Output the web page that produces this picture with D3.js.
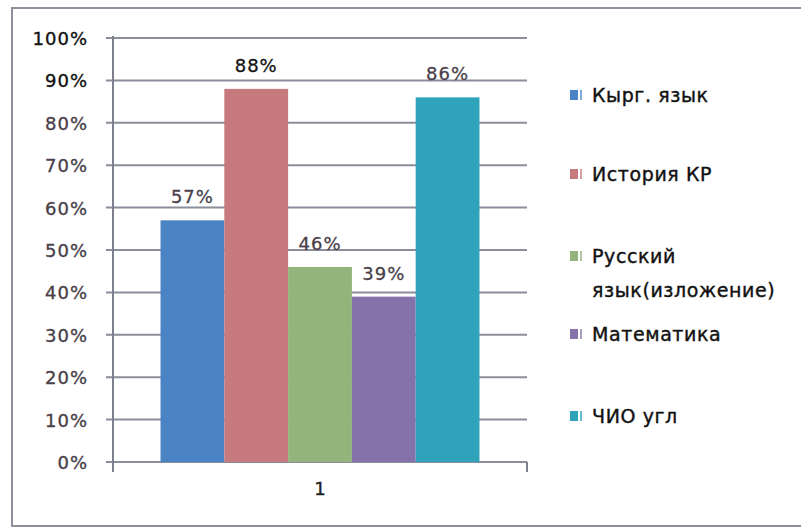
<!DOCTYPE html>
<html>
<head>
<meta charset="utf-8">
<script src="https://cdn.jsdelivr.net/npm/d3@7"></script>
<style>
	body { margin: 0; background: #fff; }
	text { font-family: "DejaVu Sans", sans-serif; }
</style>
</head>
<body>
<script>
var subjects = ['Кырг. язык', 'История КР', 'Русский язык(изложение)', 'Математика', 'ЧИО угл']
var legendLines = [['Кырг. язык'], ['История КР'], ['Русский', 'язык(изложение)'], ['Математика'], ['ЧИО угл']]
var values = [0.57, 0.88, 0.46, 0.39, 0.86]
var colors = ['#4a84c4', '#c67a7d', '#93b47a', '#8672ab', '#2ea3b9']
var yTicks = [0, 0.1, 0.2, 0.3, 0.4, 0.5, 0.6, 0.7, 0.8, 0.9, 1]
var groups = ['1']

var width = 801, height = 529

var svg = d3.select('body').append('svg')
	.attr('width', width)
	.attr('height', height)

// outer frame
svg.append('rect')
	.attr('x', 12).attr('y', 8)
	.attr('width', 800).attr('height', 518)
	.attr('fill', 'none')
	.attr('stroke', '#8d8f9c')
	.attr('stroke-width', 2)

var plot = {left: 113, right: 527, top: 38, bottom: 462}

var y = d3.scaleLinear()
	.domain([0, 1])
	.range([plot.bottom, plot.top])

var x0 = d3.scaleBand()
	.domain(groups)
	.range([plot.left, plot.right])
	.paddingInner(0)
	.paddingOuter(0.149)

var x1 = d3.scaleBand()
	.domain(subjects)
	.range([0, x0.bandwidth()])

// gridlines
svg.append('g')
	.selectAll('line')
	.data(yTicks)
	.enter()
	.append('line')
		.attr('x1', plot.left - 7)
		.attr('x2', plot.right)
		.attr('y1', d => y(d))
		.attr('y2', d => y(d))
		.attr('stroke', '#8a8d9a')
		.attr('stroke-width', 2)

// y tick labels
svg.append('g')
	.selectAll('text')
	.data(yTicks)
	.enter()
	.append('text')
		.attr('x', 88)
		.attr('y', d => y(d) + 7)
		.attr('text-anchor', 'end')
		.attr('font-size', 18)
		.attr('letter-spacing', 1)
		.attr('fill', d => d >= 0.9 ? '#111' : '#4a3f4a')
		.attr('stroke', d => d >= 0.9 ? '#111' : '#4a3f4a')
		.attr('stroke-width', 0.35)
		.text(d3.format('.0%'))

// bars
var g = svg.append('g').attr('transform', 'translate(' + x0('1') + ',0)')

g.selectAll('rect')
	.data(values)
	.enter()
	.append('rect')
		.attr('x', (d, i) => x1(subjects[i]))
		.attr('width', x1.bandwidth())
		.attr('y', d => y(d))
		.attr('height', d => y(0) - y(d))
		.attr('fill', (d, i) => colors[i])

g.selectAll('.lbl')
	.data(values)
	.enter()
	.append('text')
		.attr('class', 'lbl')
		.attr('x', (d, i) => x1(subjects[i]) + x1.bandwidth() / 2)
		.attr('y', d => y(d) - 17)
		.attr('text-anchor', 'middle')
		.attr('font-size', 18)
		.attr('letter-spacing', 1)
		.attr('fill', (d, i) => i == 1 ? '#111' : '#4a3f4a')
		.attr('stroke', (d, i) => i == 1 ? '#111' : '#4a3f4a')
		.attr('stroke-width', 0.3)
		.text(d3.format('.0%'))

// axes lines
svg.append('line')
	.attr('x1', plot.left).attr('x2', plot.left)
	.attr('y1', plot.top - 2).attr('y2', plot.bottom + 10)
	.attr('stroke', '#7c7f8e').attr('stroke-width', 2)

svg.append('line')
	.attr('x1', plot.right).attr('x2', plot.right)
	.attr('y1', plot.bottom).attr('y2', plot.bottom + 10)
	.attr('stroke', '#7c7f8e').attr('stroke-width', 2)

svg.append('text')
	.attr('x', x0('1') + x0.bandwidth() / 2)
	.attr('y', 495)
	.attr('text-anchor', 'middle')
	.attr('font-size', 18)
	.attr('fill', '#222')
	.attr('stroke', '#222')
	.attr('stroke-width', 0.4)
	.text(groups[0])

// legend
var legendY = [95, 174, 256, 334, 416]

var leg = svg.append('g')
	.selectAll('g')
	.data(legendLines)
	.enter()
	.append('g')
		.attr('transform', (d, i) => 'translate(570,' + legendY[i] + ')')

leg.append('rect')
	.attr('x', 0).attr('y', -5)
	.attr('width', 8).attr('height', 10)
	.attr('fill', (d, i) => colors[i])

leg.append('rect')
	.attr('x', 10).attr('y', -5)
	.attr('width', 2).attr('height', 10)
	.attr('fill', (d, i) => colors[i])
	.attr('opacity', 0.7)

leg.append('text')
	.attr('x', 22)
	.attr('y', 7)
	.attr('font-size', 19)
	.attr('letter-spacing', 0.6)
	.attr('fill', '#111')
	.attr('stroke', '#111')
	.attr('stroke-width', 0.4)
	.selectAll('tspan')
	.data(d => d)
	.enter()
	.append('tspan')
		.attr('x', 22)
		.attr('dy', (d, i) => i == 0 ? 0 : 34)
		.text(d => d)
</script>
</body>
</html>
